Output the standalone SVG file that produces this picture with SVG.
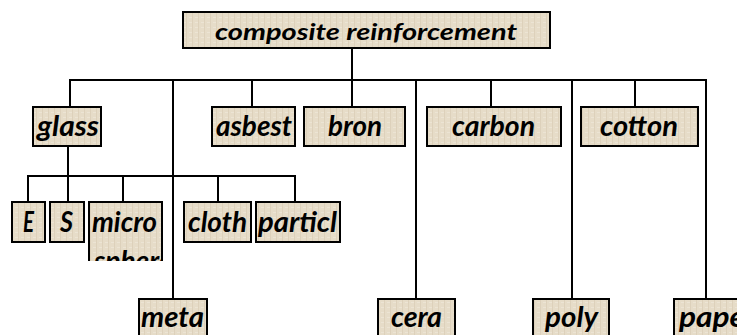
<svg xmlns="http://www.w3.org/2000/svg" width="737" height="335" viewBox="0 0 737 335">
<style>
.box{fill:url(#tex);stroke:#000;stroke-width:2}
.t{font-family:Lato,"Open Sans","Liberation Sans",sans-serif;font-weight:bold;font-style:italic;font-size:28px;fill:#000}
.top{font-size:23px}
.c line{stroke:#000;stroke-width:2}
</style>
<defs>
<pattern id="tex" width="6" height="5" patternUnits="userSpaceOnUse">
<rect width="6" height="5" fill="#e6dcc8"/>
<rect x="0" y="0" width="1" height="5" fill="#ddd1bb"/>
<rect x="3" y="2" width="3" height="1" fill="#ece4d4"/>
</pattern>
<clipPath id="mclip"><rect x="86" y="199" width="78" height="62"/></clipPath>
<clipPath id="minner"><rect x="90" y="199" width="71" height="62"/></clipPath>
</defs>
<rect width="737" height="335" fill="#fff"/>
<g class="c">
<line x1="352" y1="48" x2="352" y2="80"/>
<line x1="69" y1="80" x2="707" y2="80"/>
<line x1="70" y1="80" x2="70" y2="107"/>
<line x1="173" y1="80" x2="173" y2="299"/>
<line x1="252" y1="80" x2="252" y2="107"/>
<line x1="352" y1="80" x2="352" y2="107"/>
<line x1="416" y1="80" x2="416" y2="299"/>
<line x1="491" y1="80" x2="491" y2="107"/>
<line x1="572" y1="80" x2="572" y2="299"/>
<line x1="635" y1="80" x2="635" y2="107"/>
<line x1="706" y1="80" x2="706" y2="299"/>
<line x1="68" y1="146" x2="68" y2="176"/>
<line x1="27" y1="176" x2="296" y2="176"/>
<line x1="28" y1="176" x2="28" y2="202"/>
<line x1="68" y1="176" x2="68" y2="202"/>
<line x1="123" y1="176" x2="123" y2="202"/>
<line x1="218" y1="176" x2="218" y2="202"/>
<line x1="295" y1="176" x2="295" y2="202"/>
</g>
<g id="composite"><rect class="box" x="183" y="12" width="367" height="36"/><text class="t top" x="215" y="40" textLength="302" lengthAdjust="spacingAndGlyphs">composite reinforcement</text></g>
<g id="glass"><rect class="box" x="33" y="107" width="68" height="39"/><text class="t" x="37" y="136" textLength="62" lengthAdjust="spacingAndGlyphs">glass</text></g>
<g id="asbest"><rect class="box" x="212" y="107" width="83" height="39"/><text class="t" x="216" y="136" textLength="76" lengthAdjust="spacingAndGlyphs">asbest</text></g>
<g id="bron"><rect class="box" x="304" y="107" width="101" height="39"/><text class="t" x="328" y="136" textLength="54" lengthAdjust="spacingAndGlyphs">bron</text></g>
<g id="carbon"><rect class="box" x="427" y="107" width="134" height="39"/><text class="t" x="452" y="136" textLength="83" lengthAdjust="spacingAndGlyphs">carbon</text></g>
<g id="cotton"><rect class="box" x="581" y="107" width="117" height="39"/><text class="t" x="600" y="136" textLength="78" lengthAdjust="spacingAndGlyphs">cotton</text></g>
<g id="E"><rect class="box" x="12" y="202" width="33" height="40"/><text class="t" x="23" y="232" textLength="11" lengthAdjust="spacingAndGlyphs">E</text></g>
<g id="S"><rect class="box" x="50" y="202" width="34" height="40"/><text class="t" x="60" y="232" textLength="13" lengthAdjust="spacingAndGlyphs">S</text></g>
<g id="micro" clip-path="url(#mclip)"><rect class="box" x="89" y="202" width="73" height="70"/><text class="t" x="92" y="232" textLength="65" lengthAdjust="spacingAndGlyphs">micro</text><text class="t" x="94" y="271" clip-path="url(#minner)">sphere</text></g>
<g id="cloth"><rect class="box" x="184" y="202" width="67" height="40"/><text class="t" x="188" y="232" textLength="59" lengthAdjust="spacingAndGlyphs">cloth</text></g>
<g id="particl"><rect class="box" x="256" y="202" width="84" height="40"/><text class="t" x="258" y="232" textLength="79" lengthAdjust="spacingAndGlyphs">particl</text></g>
<g id="meta"><rect class="box" x="139" y="299" width="68" height="37"/><text class="t" x="141" y="327" textLength="63" lengthAdjust="spacingAndGlyphs">meta</text></g>
<g id="cera"><rect class="box" x="378" y="299" width="77" height="37"/><text class="t" x="391" y="327" textLength="51" lengthAdjust="spacingAndGlyphs">cera</text></g>
<g id="poly"><rect class="box" x="533" y="299" width="76" height="37"/><text class="t" x="545" y="327" textLength="53" lengthAdjust="spacingAndGlyphs">poly</text></g>
<g id="pape"><rect class="box" x="674" y="299" width="80" height="37"/><text class="t" x="679" y="327" textLength="66" lengthAdjust="spacingAndGlyphs">pape</text></g>
</svg>
